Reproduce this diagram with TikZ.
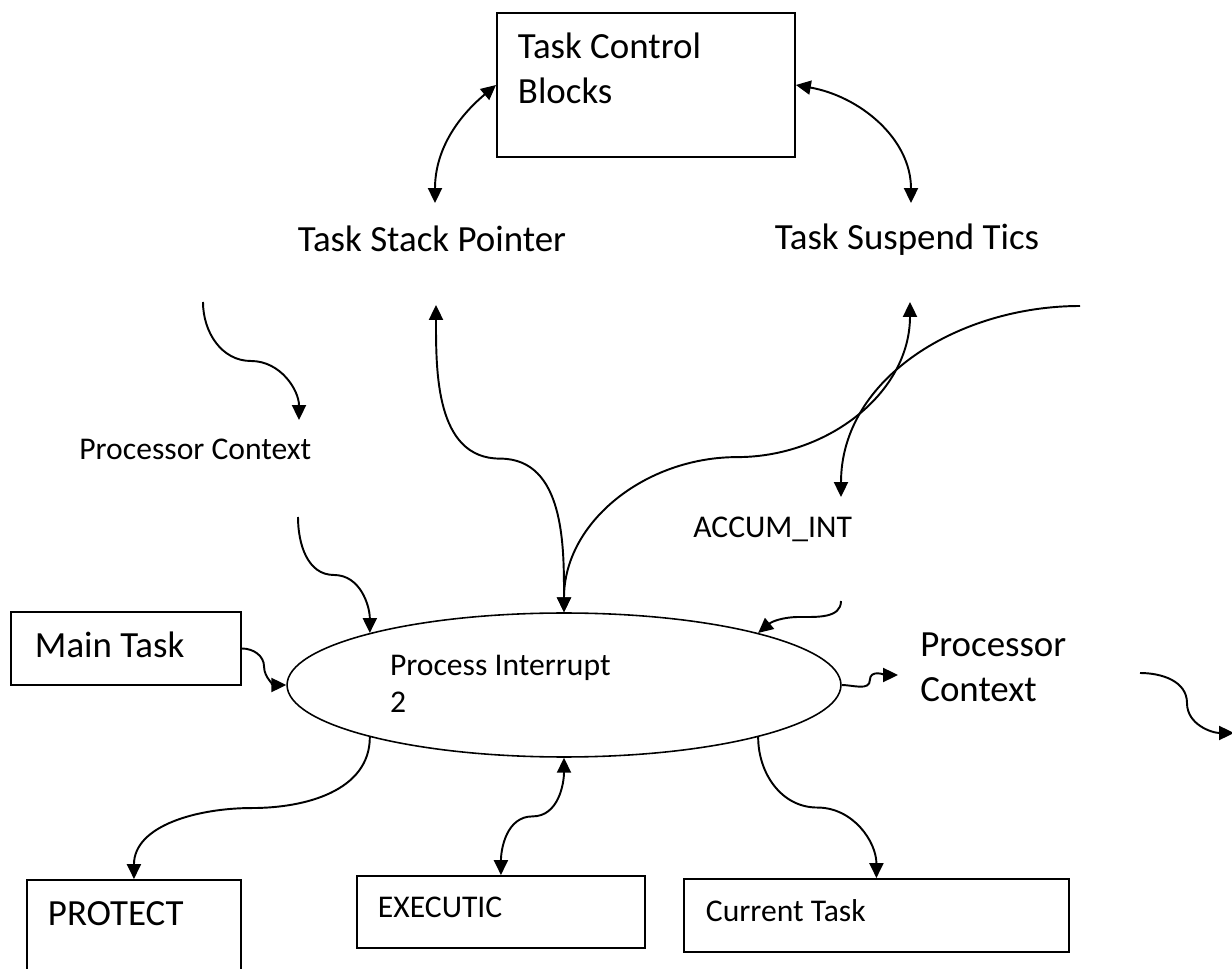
\documentclass[tikz,border=0pt]{standalone}
\usepackage{fontspec}
\setmainfont{Carlito}
\usetikzlibrary{arrows.meta,shapes.geometric,calc}
\newcommand{\lblbig}{\fontsize{21}{25.5}\selectfont}
\newcommand{\lblsmall}{\fontsize{18}{21.6}\selectfont}
\begin{document}
\begin{tikzpicture}[x=0.02cm, y=-0.02cm,
	natsp/.style={execute at begin node={\spaceskip=0pt\xspaceskip=0pt}},
	box/.style={draw=black, line width=1.1pt, inner ysep=0pt, anchor=base west, natsp},
	lbl/.style={inner sep=0pt, natsp},
	arr/.style={draw=black, line width=1.1pt, -{Triangle[length=8.5pt,width=8pt]}},
	dbl/.style={draw=black, line width=1.1pt, {Triangle[length=8.5pt,width=8pt]}-{Triangle[length=8.5pt,width=8pt]}}]
	\useasboundingbox (0,0) rectangle (1232,969);
	\node[box, font=\lblbig, inner xsep=0.42cm, text width=5.12cm, text height=0.92cm, text depth=1.96cm] (tcb) at (496,59) {Task Control\\Blocks};
	\node[box, font=\lblbig, inner xsep=0.48cm, text width=3.64cm, text height=0.92cm, text depth=0.54cm] (mt) at (10,658) {Main Task};
	\node[box, font=\lblbig, inner xsep=0.42cm, text width=3.44cm, text height=0.92cm, text depth=1.18cm] (pr) at (26,926) {PROTECT};
	\node[box, font=\lblsmall, inner xsep=0.42cm, text width=4.92cm, text height=0.82cm, text depth=0.62cm] (ex) at (356,917) {EXECUTIC};
	\node[box, font=\lblsmall, inner xsep=0.44cm, text width=6.82cm, text height=0.84cm, text depth=0.62cm] (ct) at (683,921) {Current Task};
	\node[ellipse, draw=black, line width=0.9pt, font=\lblsmall, natsp, minimum width=11.08cm, minimum height=2.88cm, inner sep=0pt, text width=6.96cm, text height=0.6cm, text depth=1.0cm] (pi) at (564,685) {Process Interrupt\\2};
	\node[lbl, font=\lblbig, anchor=base] (tsp) at (432,252) {Task Stack Pointer};
	\node[lbl, font=\lblbig, anchor=base] (tst) at (907,250) {Task Suspend Tics};
	\node[lbl, font=\lblsmall, anchor=base west] (pcl) at (79,460) {Processor Context};
	\node[lbl, font=\lblsmall, anchor=base west] (acc) at (693,538) {ACCUM\_INT};
	\node[lbl, font=\lblbig, anchor=base west, text width=3.2cm] (pcr) at (920,657) {Processor\\Context};
	\coordinate (c3s) at (203,302);
	\coordinate (c8s) at (1080,306);
	\coordinate (c11s) at (1140,673);
	\coordinate (c11e) at (1234,733);
	\coordinate (tspN) at ([shift={(3,-49)}]tsp.base);
	\coordinate (tspS) at ([shift={(4,53)}]tsp.base);
	\coordinate (tstN) at ([shift={(4,-47)}]tst.base);
	\coordinate (tstS) at ([shift={(3,52)}]tst.base);
	\coordinate (pclN) at ([shift={(220,-40)}]pcl.base west);
	\coordinate (pclS) at ([shift={(219,57)}]pcl.base west);
	\coordinate (accN) at ([shift={(148,-41)}]acc.base west);
	\coordinate (accS) at ([shift={(148,63)}]acc.base west);
	\coordinate (pcrW) at ([shift={(-22,18)}]pcr.base west);
	\draw[dbl] (tspN) to[out=90,in=220] (tcb.west);
	\draw[dbl] (tcb.east) to[out=-10,in=90] (tstN);
	\draw[arr] (c3s) to[out=-90,in=180] ($(c3s)!.5!(pclN)$) to[out=0,in=90] (pclN);
	\draw[arr] (pclS) to[out=-90,in=180] ($(pclS)!.5!(pi.165)$) to[out=0,in=90] (pi.165);
	\draw[arr] (mt.east) to[out=0,in=90] ($(mt.east)!.5!(pi.west)$) to[out=-90,in=180] (pi.west);
	\draw[dbl] (pi.north) to[out=90,in=0] ($(pi.north)!.5!(tspS)$) to[out=180,in=-90] (tspS);
	\draw[dbl] (pi.north) to[out=90,in=180] ($(pi.north)!.5!(tstS)$) to[out=0,in=-90] (tstS);
	\draw[arr] (c8s) to[out=180,in=90] (accN);
	\draw[arr] (accS) to[out=-90,in=0] ($(accS)!.5!(pi.15)$) to[out=180,in=40] (pi.15);
	\draw[arr] (pi.east) to[out=0,in=-90] ($(pi.east)!.5!(pcrW)$) to[out=90,in=180] (pcrW);
	\draw[arr] (c11s) to[out=0,in=90] ($(c11s)!.5!(c11e)$) to[out=-90,in=180] (c11e);
	\draw[arr] (pi.195) to[out=-90,in=0] ($(pi.195)!.5!(pr.north)$) to[out=180,in=90] (pr.north);
	\draw[dbl] (ex.north) to[out=90,in=180] ($(ex.north)!.5!(pi.south)$) to[out=0,in=-90] (pi.south);
	\draw[arr] (pi.345) to[out=-90,in=180] ($(pi.345)!.5!(ct.north)$) to[out=0,in=90] (ct.north);
\end{tikzpicture}
\end{document}
